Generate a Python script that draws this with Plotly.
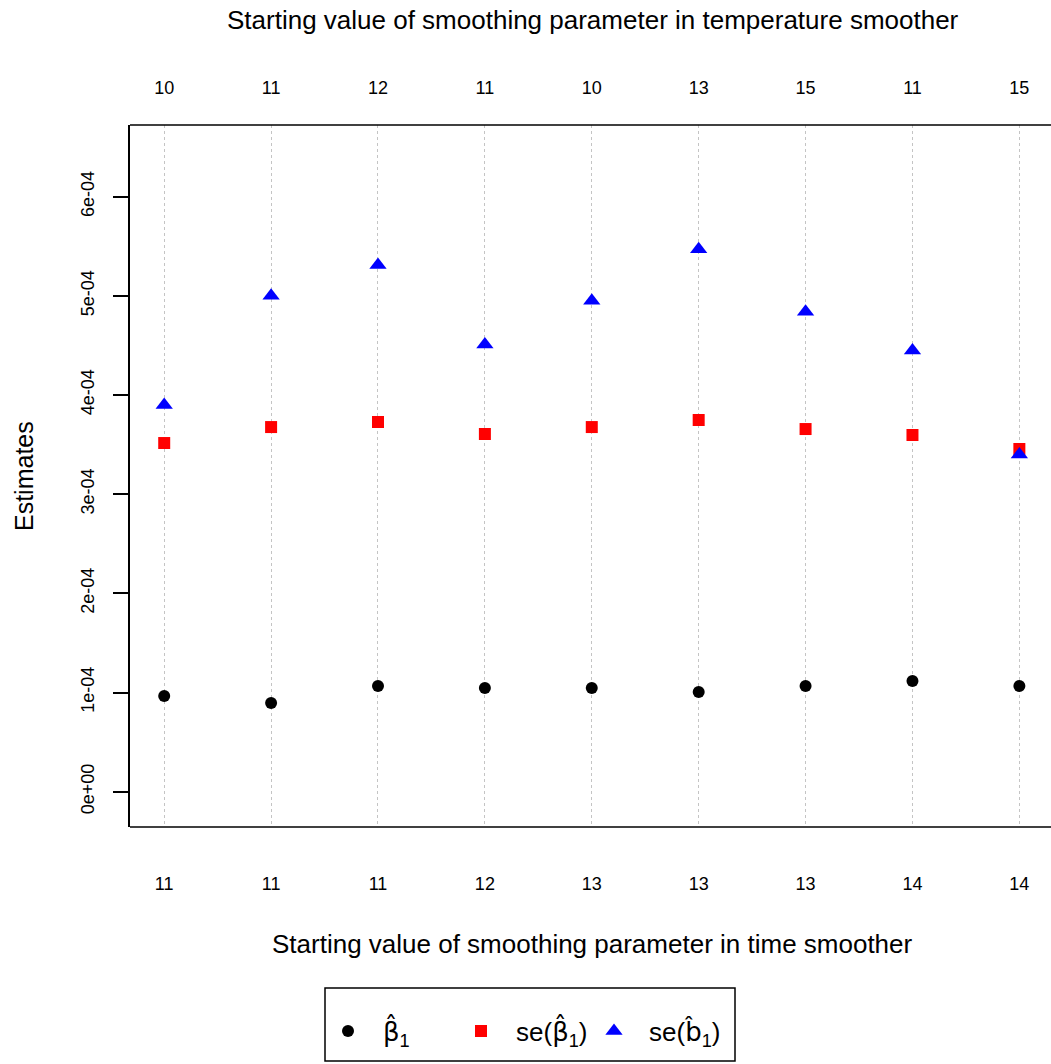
import plotly.graph_objects as go

# Run index and the two starting values of the smoothing parameters
runs = [1, 2, 3, 4, 5, 6, 7, 8, 9]
time_start = ["11", "11", "11", "12", "13", "13", "13", "14", "14"]
temp_start = ["10", "11", "12", "11", "10", "13", "15", "11", "15"]

# Estimates for each run
beta_hat = [0.965e-4, 0.894e-4, 1.066e-4, 1.046e-4, 1.046e-4, 1.005e-4, 1.066e-4, 1.116e-4, 1.066e-4]
se_beta_hat = [3.516e-4, 3.677e-4, 3.728e-4, 3.607e-4, 3.677e-4, 3.748e-4, 3.657e-4, 3.597e-4, 3.456e-4]
se_b_hat = [3.90e-4, 5.00e-4, 5.31e-4, 4.51e-4, 4.95e-4, 5.47e-4, 4.84e-4, 4.45e-4, 3.40e-4]

y_ticks = [0, 1e-4, 2e-4, 3e-4, 4e-4, 5e-4, 6e-4]
y_ticklabels = ["0e+00", "1e-04", "2e-04", "3e-04", "4e-04", "5e-04", "6e-04"]

FONT = "Liberation Sans"
W, H = 1051, 1064
L, R, T, B = 130, 0, 125, 237
PW, PH = W - L - R, H - T - B

def px_x(p):
    return (p - L) / PW

def px_y(p):
    return (H - B - p) / PH

HAT = '<span style="font-family:DejaVu Sans">{}\u0302</span>'
beta = HAT.format("β")
bsym = HAT.format("b")

fig = go.Figure()
fig.add_trace(go.Scatter(
    x=runs, y=beta_hat, mode="markers", name=f"{beta}<sub>1</sub>",
    marker=dict(symbol="circle", size=12, color="black")))
fig.add_trace(go.Scatter(
    x=runs, y=se_beta_hat, mode="markers", name=f"se({beta}<sub>1</sub>)",
    marker=dict(symbol="square", size=12, color="red")))
fig.add_trace(go.Scatter(
    x=runs, y=se_b_hat, mode="markers", name=f"se({bsym}<sub>1</sub>)",
    marker=dict(symbol="triangle-up", size=15, color="blue")))
# blank legend slot so the last label has room
fig.add_trace(go.Scatter(x=[None], y=[None], mode="markers", name=" ",
                         marker=dict(color="rgba(0,0,0,0)", size=1,
                                     line=dict(width=0, color="rgba(0,0,0,0)")),
                         hoverinfo="skip"))
# carrier for the top axis
fig.add_trace(go.Scatter(x=runs, y=beta_hat, xaxis="x2", mode="markers",
                         marker=dict(opacity=0), showlegend=False, hoverinfo="skip"))

xr = [0.68, 9.296]
tick_font = dict(family=FONT, size=18, color="black")
fig.update_layout(
    width=W, height=H, margin=dict(l=L, r=R, t=T, b=B),
    paper_bgcolor="white", plot_bgcolor="white",
    font=dict(family=FONT, size=18, color="black"),
    xaxis=dict(range=xr, tickvals=runs, ticktext=time_start, ticks="",
               showgrid=True, gridcolor="#c4c4c4", griddash="dot", gridwidth=1,
               zeroline=False, showline=False, ticklabelstandoff=44,
               tickfont=tick_font),
    xaxis2=dict(range=xr, tickvals=runs, ticktext=temp_start, ticks="",
                overlaying="x", side="top", showgrid=False, zeroline=False,
                showline=False, ticklabelstandoff=26, tickfont=tick_font),
    yaxis=dict(range=[-0.356e-4, 6.723e-4], tickvals=y_ticks, ticktext=y_ticklabels,
               ticks="outside", ticklen=15, tickwidth=1.5, tickcolor="black",
               tickangle=-90, showgrid=False, zeroline=False,
               showline=True, linecolor="black", linewidth=1.5,
               ticklabelstandoff=12, tickfont=tick_font),
    showlegend=True,
    legend=dict(orientation="h", x=px_x(313), xanchor="left",
                y=px_y(1031), yanchor="middle",
                borderwidth=0, bgcolor="rgba(0,0,0,0)",
                font=dict(family=FONT, size=26), entrywidth=58,
                entrywidthmode="pixels", itemwidth=60, itemsizing="trace",
                itemclick=False, itemdoubleclick=False),
    shapes=[
        dict(type="line", xref="paper", yref="paper", x0=0, x1=1, y0=1, y1=1,
             line=dict(color="black", width=1.5)),
        dict(type="line", xref="paper", yref="paper", x0=0, x1=1, y0=0, y1=0,
             line=dict(color="black", width=1.5)),
        dict(type="rect", xref="paper", yref="paper",
             x0=px_x(325), x1=px_x(735), y0=px_y(1061), y1=px_y(988),
             line=dict(color="black", width=1.5)),
    ],
    annotations=[
        dict(text="Starting value of smoothing parameter in temperature smoother",
             xref="paper", yref="paper", x=px_x(593), y=1, yshift=105,
             xanchor="center", yanchor="middle", showarrow=False, font=dict(size=26)),
        dict(text="Starting value of smoothing parameter in time smoother",
             xref="paper", yref="paper", x=px_x(592), y=0, yshift=-117,
             xanchor="center", yanchor="middle", showarrow=False, font=dict(size=26)),
        dict(text="Estimates", xref="paper", yref="paper", x=0, xshift=-106,
             y=0.5, xanchor="center", yanchor="middle", textangle=-90,
             showarrow=False, font=dict(size=25)),
    ],
)

fig.write_html("out.html")
